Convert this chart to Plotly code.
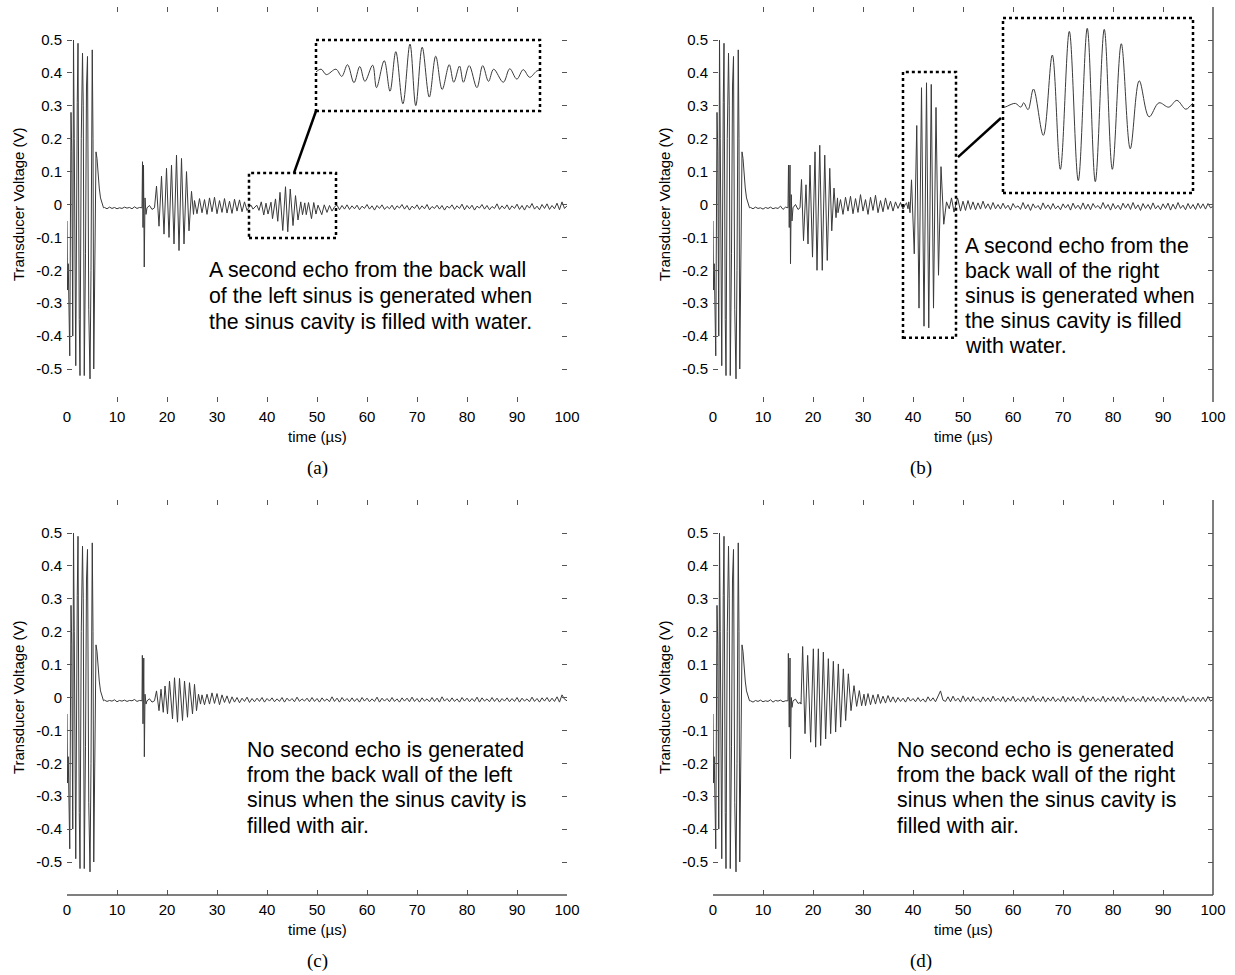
import plotly.graph_objects as go

W, H = 1235, 975
N = None  # placeholder: sample hidden under a burst

# ---------------- data (time in microseconds, voltage in V) ----------------
# transducer excitation (same in all four records)
exc_t = [0.0, 0.1, 0.25, 0.4, 0.55, 0.8, 0.95, 1.15, 1.3, 1.45, 1.6, 1.75, 2.05, 2.2, 2.45,
         2.6, 2.85, 3.1, 3.25, 3.45, 3.7, 3.9, 4.1, 4.35, 4.6, 4.8, 5.05, 5.2, 5.35, 5.55,
         5.8, 6.0, 6.2, 6.45, 6.7, 7.0, 7.3]
exc_v = [-0.05, -0.26, -0.18, -0.30, -0.46, 0.28, 0.16, -0.40, 0.50, 0.20, -0.41, -0.49, 0.31, 0.49, -0.35,
         -0.52, 0.20, 0.46, 0.30, -0.52, -0.15, 0.36, 0.45, -0.32, -0.53, -0.20, 0.47, 0.20, -0.50, -0.10,
         0.16, 0.14, 0.08, 0.05, 0.02, 0.0, -0.01]

# (a) left sinus, water
a_spike_t = [15.0, 15.1, 15.2, 15.3, 15.45, 15.6, 15.8, 16.0]
a_spike_v = [-0.01, 0.13, -0.07, 0.12, -0.19, 0.02, -0.03, -0.01]
a_echo1_t = [17.5, 17.9, 18.4, 18.9, 19.4, 19.9, 20.4, 20.9, 21.4, 21.9, 22.4, 22.9, 23.4, 23.9, 24.4, 24.9, 25.3]
a_echo1_v = [-0.01, 0.056, -0.066, 0.086, -0.09, 0.11, -0.10, 0.12, -0.12, 0.15, -0.14, 0.14, -0.12, 0.10, -0.08, 0.04, -0.03]
a_echo2_t = [36.4, 36.8, 37.2, 37.95, 38.4, 38.85, 39.35, 39.8, 40.2, 40.8, 41.1, 41.7, 42.15, 42.6, 43.15, 43.7,
             44.15, 44.65, 45.2, 45.7, 46.2, 46.75, 47.1, 47.55, 47.85, 48.3, 48.9, 49.35, 49.8, 50.2, 50.95,
             51.45, 52.0, 52.5, 53.0, 53.55]
a_echo2_v = [-0.008, -0.002, -0.014, -0.002, -0.018, 0.008, -0.032, 0.004, -0.029, 0.007, -0.043, 0.017, -0.051,
             0.037, -0.079, 0.054, -0.083, 0.047, -0.064, 0.027, -0.047, 0.008, -0.031, 0.005, -0.031, 0.006,
             -0.043, 0.006, -0.029, -0.002, -0.031, -0.001, -0.024, -0.003, -0.020, -0.006]
a_noise_mv = [
    -9, -13, -8, -12, -9, -13, -10, -12, -8, -11, -9, -13, -7, -12, -9, N, N, N, -3, -15,      # 7.5-17
    N, N, N, N, N, N, N, N, N, N, N, N, N, N, N, N, 12, -28, 18, -25,                          # 17.5-27
    15, -30, 20, -22, 22, -28, 12, -24, 18, -26, 10, -27, 16, -20, 14, -22, 8, -18, N, N,      # 27.5-37
    N, N, N, N, N, N, N, N, N, N, N, N, N, N, N, N, N, N, N, N,                                # 37.5-47
    N, N, N, N, N, N, N, N, N, N, N, N, N, -2, -16, -3, -14, -1, -15, -4,                      # 47.5-57
    -13, -2, -16, -5, -12, 0, -14, -4, -17, -3, -12, -1, -15, -6, -13, -2, -16, -4, -11, 0,    # 57.5-67
    -14, -3, -17, -5, -12, -1, -15, -4, -13, 0, -16, -6, -12, -2, -14, -3, -17, -5, -11, -1,   # 67.5-77
    -15, -4, -12, 1, -16, -3, -13, -2, -17, -5, -11, 0, -14, -3, -16, -6, -12, 2, -15, -4,     # 77.5-87
    -13, -1, -16, -4, -12, 1, -15, -3, -17, -2, -11, 3, -14, -5, -16, 0, -12, 2, -15, -3,      # 87.5-97
    -13, 4, -16, 8, -12, -4]                                                                   # 97.5-100

# (b) right sinus, water
b_spike_t = [15.0, 15.1, 15.25, 15.4, 15.5, 15.65, 15.8, 16.0]
b_spike_v = [-0.01, 0.12, -0.07, 0.12, -0.18, 0.03, -0.05, -0.01]
b_echo1_t = [17.4, 17.7, 18.1, 18.6, 19.0, 19.4, 19.9, 20.4, 20.8, 21.35, 21.85, 22.35, 22.85, 23.35, 23.75, 24.2, 24.6, 24.9]
b_echo1_v = [-0.01, 0.076, -0.11, 0.06, -0.12, 0.12, -0.16, 0.16, -0.20, 0.18, -0.20, 0.15, -0.17, 0.11, -0.08, 0.05, -0.04, 0.02]
b_echo2_t = [38.7, 39.0, 39.15, 39.4, 39.7, 40.25, 40.75, 41.2, 41.7, 42.2, 42.7, 43.15, 43.65, 44.1, 44.6,
             45.1, 45.6, 46.15, 46.7, 47.25, 47.7, 48.2, 48.55, 48.9]
b_echo2_v = [0.005, -0.013, 0.008, -0.025, 0.075, -0.15, 0.24, -0.315, 0.355, -0.37, 0.37, -0.375, 0.365, -0.315,
             0.295, -0.215, 0.115, -0.06, 0.008, -0.013, 0.02, -0.023, 0.002, 0.02]
b_noise_mv = [
    -9, -13, -8, -12, -10, -14, -9, -12, -8, -13, -10, -12, -5, -15, -8, N, N, N, 0, -15,      # 7.5-17
    N, N, N, N, N, N, N, N, N, N, N, N, N, N, N, -25, 15, -30, 22, -20,                        # 17.5-27
    25, -28, 18, -24, 30, -20, 15, -30, 22, -18, 28, -25, 12, -22, 20, -15, 10, -20, 8, -12,   # 27.5-37
    6, -14, 2, N, N, N, N, N, N, N, N, N, N, N, N, N, N, N, N, N,                              # 37.5-47
    N, N, N, 15, -20, 10, -18, 12, -15, 8, -16, 5, -14, 10, -12, 2, -15, 6, -13, 0,            # 47.5-57
    -14, 4, -12, -2, -17, 3, -10, -4, -15, 6, -13, 0, -18, 2, -11, -3, -16, 5, -12, -1,        # 57.5-67
    -15, 3, -13, -4, -16, 2, -11, 0, -17, 4, -12, -2, -15, 5, -14, 1, -16, 3, -10, -3,         # 67.5-77
    -14, 6, -12, 0, -17, 3, -13, -2, -16, 4, -11, 2, -15, 6, -13, -1, -18, 3, -12, 0,          # 77.5-87
    -15, 5, -13, -3, -16, 2, -12, 4, -17, 1, -14, 6, -12, -2, -16, 3, -13, 0, -15, 4,          # 87.5-97
    -12, 2, -14, 3, -10, -6]                                                                   # 97.5-100

# (c) left sinus, air
c_spike_t = [15.0, 15.07, 15.2, 15.35, 15.47, 15.6, 15.8, 16.0]
c_spike_v = [-0.01, 0.128, -0.08, 0.12, -0.18, 0.01, -0.02, -0.01]
c_echo1_t = [17.5, 17.9, 18.4, 18.8, 19.25, 19.6, 20.1, 20.5, 21.1, 21.5, 22.1, 22.5, 23.1, 23.5, 24.1, 24.5,
             25.1, 25.5, 25.9, 26.3, 26.7]
c_echo1_v = [-0.01, 0.02, -0.04, 0.025, -0.045, 0.035, -0.05, 0.05, -0.065, 0.06, -0.075, 0.058, -0.07, 0.05,
             -0.06, 0.045, -0.05, 0.04, -0.04, 0.01, -0.02]
c_noise_mv = [
    -8, -12, -9, -11, -7, -13, -9, -11, -8, -12, -9, -10, -6, -12, -9, N, N, N, -4, -14,       # 7.5-17
    N, N, N, N, N, N, N, N, N, N, N, N, N, N, N, N, N, N, N, 8,                                # 17.5-27
    -22, 10, -20, 14, -18, 12, -22, 8, -15, 5, -18, 2, -14, 0, -16, -2, -12, 1, -15, -3,       # 27.5-37
    -13, -2, -12, 0, -14, -3, -11, -1, -13, -4, -12, 0, -14, -2, -11, -3, -13, 1, -12, -4,     # 37.5-47
    -11, -2, -13, 0, -12, -3, -14, -1, -11, -4, -13, 2, -12, -2, -14, 0, -11, -3, -13, -1,     # 47.5-57
    -12, -3, -14, 0, -11, -2, -13, -4, -12, 1, -14, -2, -11, -3, -13, 0, -12, -4, -14, -1,     # 57.5-67
    -11, -2, -13, 1, -12, -3, -14, -1, -11, -4, -13, 0, -12, -2, -14, 2, -11, -3, -13, -1,     # 67.5-77
    -12, -4, -14, 0, -11, -2, -13, -3, -12, 1, -14, -1, -11, -4, -13, 0, -12, -2, -14, -3,     # 77.5-87
    -11, -1, -13, -3, -12, 0, -14, -2, -11, -4, -13, 1, -12, -3, -14, -1, -11, 0, -13, -2,     # 87.5-97
    -12, 2, -14, 8, -5, -10]                                                                   # 97.5-100

# (d) right sinus, air
d_spike_t = [15.0, 15.07, 15.25, 15.4, 15.5, 15.65, 15.8, 16.0]
d_spike_v = [-0.01, 0.134, -0.09, 0.12, -0.186, 0.0, -0.03, -0.01]
d_echo1_t = [17.6, 17.93, 18.4, 18.93, 19.53, 20.07, 20.53, 21.07, 21.53, 22.07, 22.53, 23.07, 23.53, 24.07,
             24.53, 25.07, 25.53, 26.07, 26.53, 27.07, 27.6, 28.2, 28.73, 29.27, 29.73, 30.2]
d_echo1_v = [-0.02, 0.155, -0.11, 0.128, -0.136, 0.148, -0.151, 0.148, -0.146, 0.138, -0.126, 0.118, -0.11,
             0.11, -0.105, 0.102, -0.09, 0.087, -0.07, 0.072, -0.04, 0.036, -0.027, 0.021, -0.025, 0.01]
d_noise_mv = [
    -10, -14, -9, -12, -8, -13, -10, -12, -7, -14, -9, -11, -8, -13, -10, N, N, N, -5, -18,    # 7.5-17
    -15, N, N, N, N, N, N, N, N, N, N, N, N, N, N, N, N, N, N, N,                              # 17.5-27
    N, N, N, N, N, N, -25, 12, -22, 8, -20, 10, -18, 4, -17, 6, -14, 2, -15, 0,                # 27.5-37
    -12, -2, -14, 1, -11, -3, -13, 0, -12, -4, -14, 2, -11, -1, -13, 3, 20, -8, -12, 2,        # 37.5-47
    -13, 4, -11, -2, -14, 5, -12, 0, -13, 3, -11, -3, -14, 2, -12, -1, -13, 4, -11, -2,        # 47.5-57
    -12, 3, -14, -1, -11, 4, -13, -3, -12, 2, -14, 0, -11, 5, -13, -2, -12, 3, -14, -1,        # 57.5-67
    -11, 2, -13, -3, -12, 4, -14, 0, -11, 3, -13, -2, -12, 5, -14, -1, -11, 2, -13, -3,        # 67.5-77
    -12, 4, -14, -1, -11, 3, -13, 0, -12, 5, -14, -2, -11, 2, -13, -3, -12, 4, -14, 0,         # 77.5-87
    -11, 3, -13, -2, -12, 4, -14, -1, -11, 2, -13, 0, -12, 5, -14, -3, -11, 2, -13, 1,         # 87.5-97
    -12, 1, -13, 3, -11, -6]                                                                   # 97.5-100

NOISE_T0, NOISE_DT, T_END = 7.5, 0.5, 100.0

x_ticks = [0, 10, 20, 30, 40, 50, 60, 70, 80, 90, 100]
y_ticks = [0.5, 0.4, 0.3, 0.2, 0.1, 0.0, -0.1, -0.2, -0.3, -0.4, -0.5]
y_tick_text = ["0.5", "0.4", "0.3", "0.2", "0.1", "0", "-0.1", "-0.2", "-0.3", "-0.4", "-0.5"]

captions = ["(a)", "(b)", "(c)", "(d)"]
notes = [
    ["A second echo from the back wall", "of the left sinus is generated when", "the sinus cavity is filled with water."],
    ["A second echo from the", "back wall of the right", "sinus is generated when", "the sinus cavity is filled", "with water."],
    ["No second echo is generated", "from the back wall of the left", "sinus when the sinus cavity is", "filled with air."],
    ["No second echo is generated", "from the back wall of the right", "sinus when the sinus cavity is", "filled with air."],
]


def assemble(bursts, noise_mv):
    pts, windows = [], []
    for ts, vs in bursts:
        pts.extend(zip(ts, vs))
        windows.append((min(ts), max(ts)))
    for i, mv in enumerate(noise_mv):
        t = NOISE_T0 + i * NOISE_DT
        if mv is None or t > T_END:
            continue
        if any(lo <= t <= hi for lo, hi in windows):
            continue
        pts.append((t, mv / 1000.0))
    pts.sort(key=lambda p: p[0])
    return [p[0] for p in pts], [p[1] for p in pts]


signals = [
    assemble([(exc_t, exc_v), (a_spike_t, a_spike_v), (a_echo1_t, a_echo1_v), (a_echo2_t, a_echo2_v)], a_noise_mv),
    assemble([(exc_t, exc_v), (b_spike_t, b_spike_v), (b_echo1_t, b_echo1_v), (b_echo2_t, b_echo2_v)], b_noise_mv),
    assemble([(exc_t, exc_v), (c_spike_t, c_spike_v), (c_echo1_t, c_echo1_v)], c_noise_mv),
    assemble([(exc_t, exc_v), (d_spike_t, d_spike_v), (d_echo1_t, d_echo1_v)], d_noise_mv),
]

# ---------------- layout (pixel geometry) ----------------
panels = [  # x of t=0, x of t=100, y of V=+0.6, y of V=-0.6
    (67, 567, 7.1, 401.9),
    (713, 1213, 7.1, 401.9),
    (67, 567, 500.1, 894.9),
    (713, 1213, 500.1, 894.9),
]
X_RANGE = [0, 100]
Y_RANGE = [-0.6, 0.6]

FONT = "Liberation Sans, Arial, sans-serif"
SERIF = "Liberation Serif, Times New Roman, serif"
LINE_COLOR = "#3a3a3a"


def px(x):
    return x / W


def py(y):
    return 1 - y / H


def data_to_paper(i, t, v):
    x0, x1, yt, yb = panels[i]
    xp = x0 + (t - X_RANGE[0]) / (X_RANGE[1] - X_RANGE[0]) * (x1 - x0)
    yp = yb - (v - Y_RANGE[0]) / (Y_RANGE[1] - Y_RANGE[0]) * (yb - yt)
    return px(xp), py(yp)


fig = go.Figure()
layout = dict(
    width=W, height=H, autosize=False, margin=dict(l=0, r=0, t=0, b=0, pad=0, autoexpand=False),
    paper_bgcolor="white", plot_bgcolor="white", showlegend=False,
)
annotations, shapes = [], []

for i, (x0, x1, yt, yb) in enumerate(panels):
    n = i + 1
    xa, ya = f"x{n}", f"y{n}"
    t, v = signals[i]
    fig.add_trace(go.Scatter(x=t, y=v, mode="lines", xaxis=xa, yaxis=ya,
                             line=dict(color=LINE_COLOR, width=1), hoverinfo="skip"))
    layout[f"xaxis{n}"] = dict(
        domain=[px(x0), px(x1)], range=X_RANGE, anchor=ya,
        tickvals=x_ticks, ticktext=[str(k) for k in x_ticks],
        ticks="inside", ticklen=5, tickwidth=1, tickcolor="#555", mirror="ticks",
        ticklabelstandoff=4,
        showline=False, showgrid=False, zeroline=False,
        tickfont=dict(family=FONT, size=15, color="black"),
    )
    layout[f"yaxis{n}"] = dict(
        domain=[py(yb), py(yt)], range=Y_RANGE, anchor=xa,
        tickvals=y_ticks, ticktext=y_tick_text,
        ticks="inside", ticklen=5, tickwidth=1, tickcolor="#555", mirror="ticks",
        ticklabelstandoff=4,
        showline=False, showgrid=False, zeroline=False,
        tickfont=dict(family=FONT, size=15, color="black"),
    )
    ymid = (yt + yb) / 2 - 0.4
    annotations.append(dict(text="Transducer Voltage (V)", x=px(x0 - 49), y=py(ymid), xref="paper", yref="paper",
                            textangle=-90, showarrow=False, xanchor="center", yanchor="middle",
                            font=dict(family=FONT, size=15, color="black")))
    annotations.append(dict(text="time (µs)", x=px((x0 + x1) / 2), y=py(yb + 35), xref="paper", yref="paper",
                            showarrow=False, xanchor="center", yanchor="middle",
                            font=dict(family=FONT, size=15, color="black")))
    annotations.append(dict(text=captions[i], x=px((x0 + x1) / 2 + (1 if i % 2 == 0 else -42)),
                            y=py(yb + 66), xref="paper", yref="paper",
                            showarrow=False, xanchor="center", yanchor="middle",
                            font=dict(family=SERIF, size=19, color="black")))

# explanatory notes, one annotation per line
note_pos = [(207, [270, 296, 322]), (963, [246, 271, 296, 321, 346]),
            (245, [750, 775, 800, 826]), (895, [750, 775, 800, 826])]
for (nx, ys), lines in zip(note_pos, notes):
    for ly, txt in zip(ys, lines):
        annotations.append(dict(text=txt, x=px(nx), y=py(ly), xref="paper", yref="paper", showarrow=False,
                                xanchor="left", yanchor="middle", align="left",
                                font=dict(family=FONT, size=21.3, color="black")))

# visible axis lines
axis_line = dict(color="#555", width=1.5)
shapes.append(dict(type="line", xref="x2 domain", yref="y2 domain", x0=1, x1=1, y0=0, y1=1, line=axis_line))
shapes.append(dict(type="line", xref="x3 domain", yref="y3 domain", x0=0, x1=1, y0=0, y1=0, line=axis_line))
shapes.append(dict(type="line", xref="x4 domain", yref="y4 domain", x0=0, x1=1, y0=0, y1=0, line=axis_line))
shapes.append(dict(type="line", xref="x4 domain", yref="y4 domain", x0=1, x1=1, y0=0, y1=1, line=axis_line))

dotted = dict(color="black", width=2.5, dash="dot")
solid = dict(color="black", width=2.5)

# zoom windows (data coordinates) and insets
zoom_a = dict(t=[36.4, 53.8], v=[-0.102, 0.096])
zoom_b = dict(t=[38.0, 48.6], v=[-0.405, 0.403])
inset_a_px = (316, 540, 40, 111)
inset_b_px = (1003, 1193, 18, 193)
inset_a_yrange = [-0.095, 0.063]
inset_b_yrange = [-0.43, 0.42]

shapes.append(dict(type="rect", xref="x1", yref="y1", x0=zoom_a["t"][0], x1=zoom_a["t"][1],
                   y0=zoom_a["v"][0], y1=zoom_a["v"][1], line=dotted))
shapes.append(dict(type="rect", xref="x2", yref="y2", x0=zoom_b["t"][0], x1=zoom_b["t"][1],
                   y0=zoom_b["v"][0], y1=zoom_b["v"][1], line=dotted))

for k, (sig_i, zoom, ipx, yr) in enumerate([(0, zoom_a, inset_a_px, inset_a_yrange),
                                             (1, zoom_b, inset_b_px, inset_b_yrange)]):
    n = 5 + k
    t, v = signals[sig_i]
    lo, hi = zoom["t"]
    seg = [(tt, vv) for tt, vv in zip(t, v) if lo - 0.6 <= tt <= hi + 0.6]
    fig.add_trace(go.Scatter(x=[s[0] for s in seg], y=[s[1] for s in seg], mode="lines",
                             xaxis=f"x{n}", yaxis=f"y{n}", hoverinfo="skip",
                             line=dict(color=LINE_COLOR, width=1, shape="spline", smoothing=1.0)))
    ix0, ix1, iyt, iyb = ipx
    layout[f"xaxis{n}"] = dict(domain=[px(ix0), px(ix1)], range=[lo, hi], anchor=f"y{n}", visible=False)
    layout[f"yaxis{n}"] = dict(domain=[py(iyb), py(iyt)], range=yr, anchor=f"x{n}", visible=False)
    shapes.append(dict(type="rect", xref="paper", yref="paper", x0=px(ix0), x1=px(ix1),
                       y0=py(iyb), y1=py(iyt), line=dotted))

# connectors from zoom windows to insets
ca0 = data_to_paper(0, 45.4, zoom_a["v"][1])
shapes.append(dict(type="line", xref="paper", yref="paper", x0=ca0[0], y0=ca0[1],
                   x1=px(inset_a_px[0]), y1=py(inset_a_px[3]), line=solid))
cb0 = data_to_paper(1, 49.0, 0.144)
shapes.append(dict(type="line", xref="paper", yref="paper", x0=cb0[0], y0=cb0[1],
                   x1=px(inset_b_px[0] - 2), y1=py(118), line=solid))

layout["annotations"] = annotations
layout["shapes"] = shapes
fig.update_layout(**layout)
fig.write_html(
    "out.html",
    config={"responsive": False, "displayModeBar": False},
    default_width=f"{W}px", default_height=f"{H}px",
    post_script="document.body.style.margin='0';document.body.style.padding='0';"
                "document.body.style.overflow='hidden';",
)
